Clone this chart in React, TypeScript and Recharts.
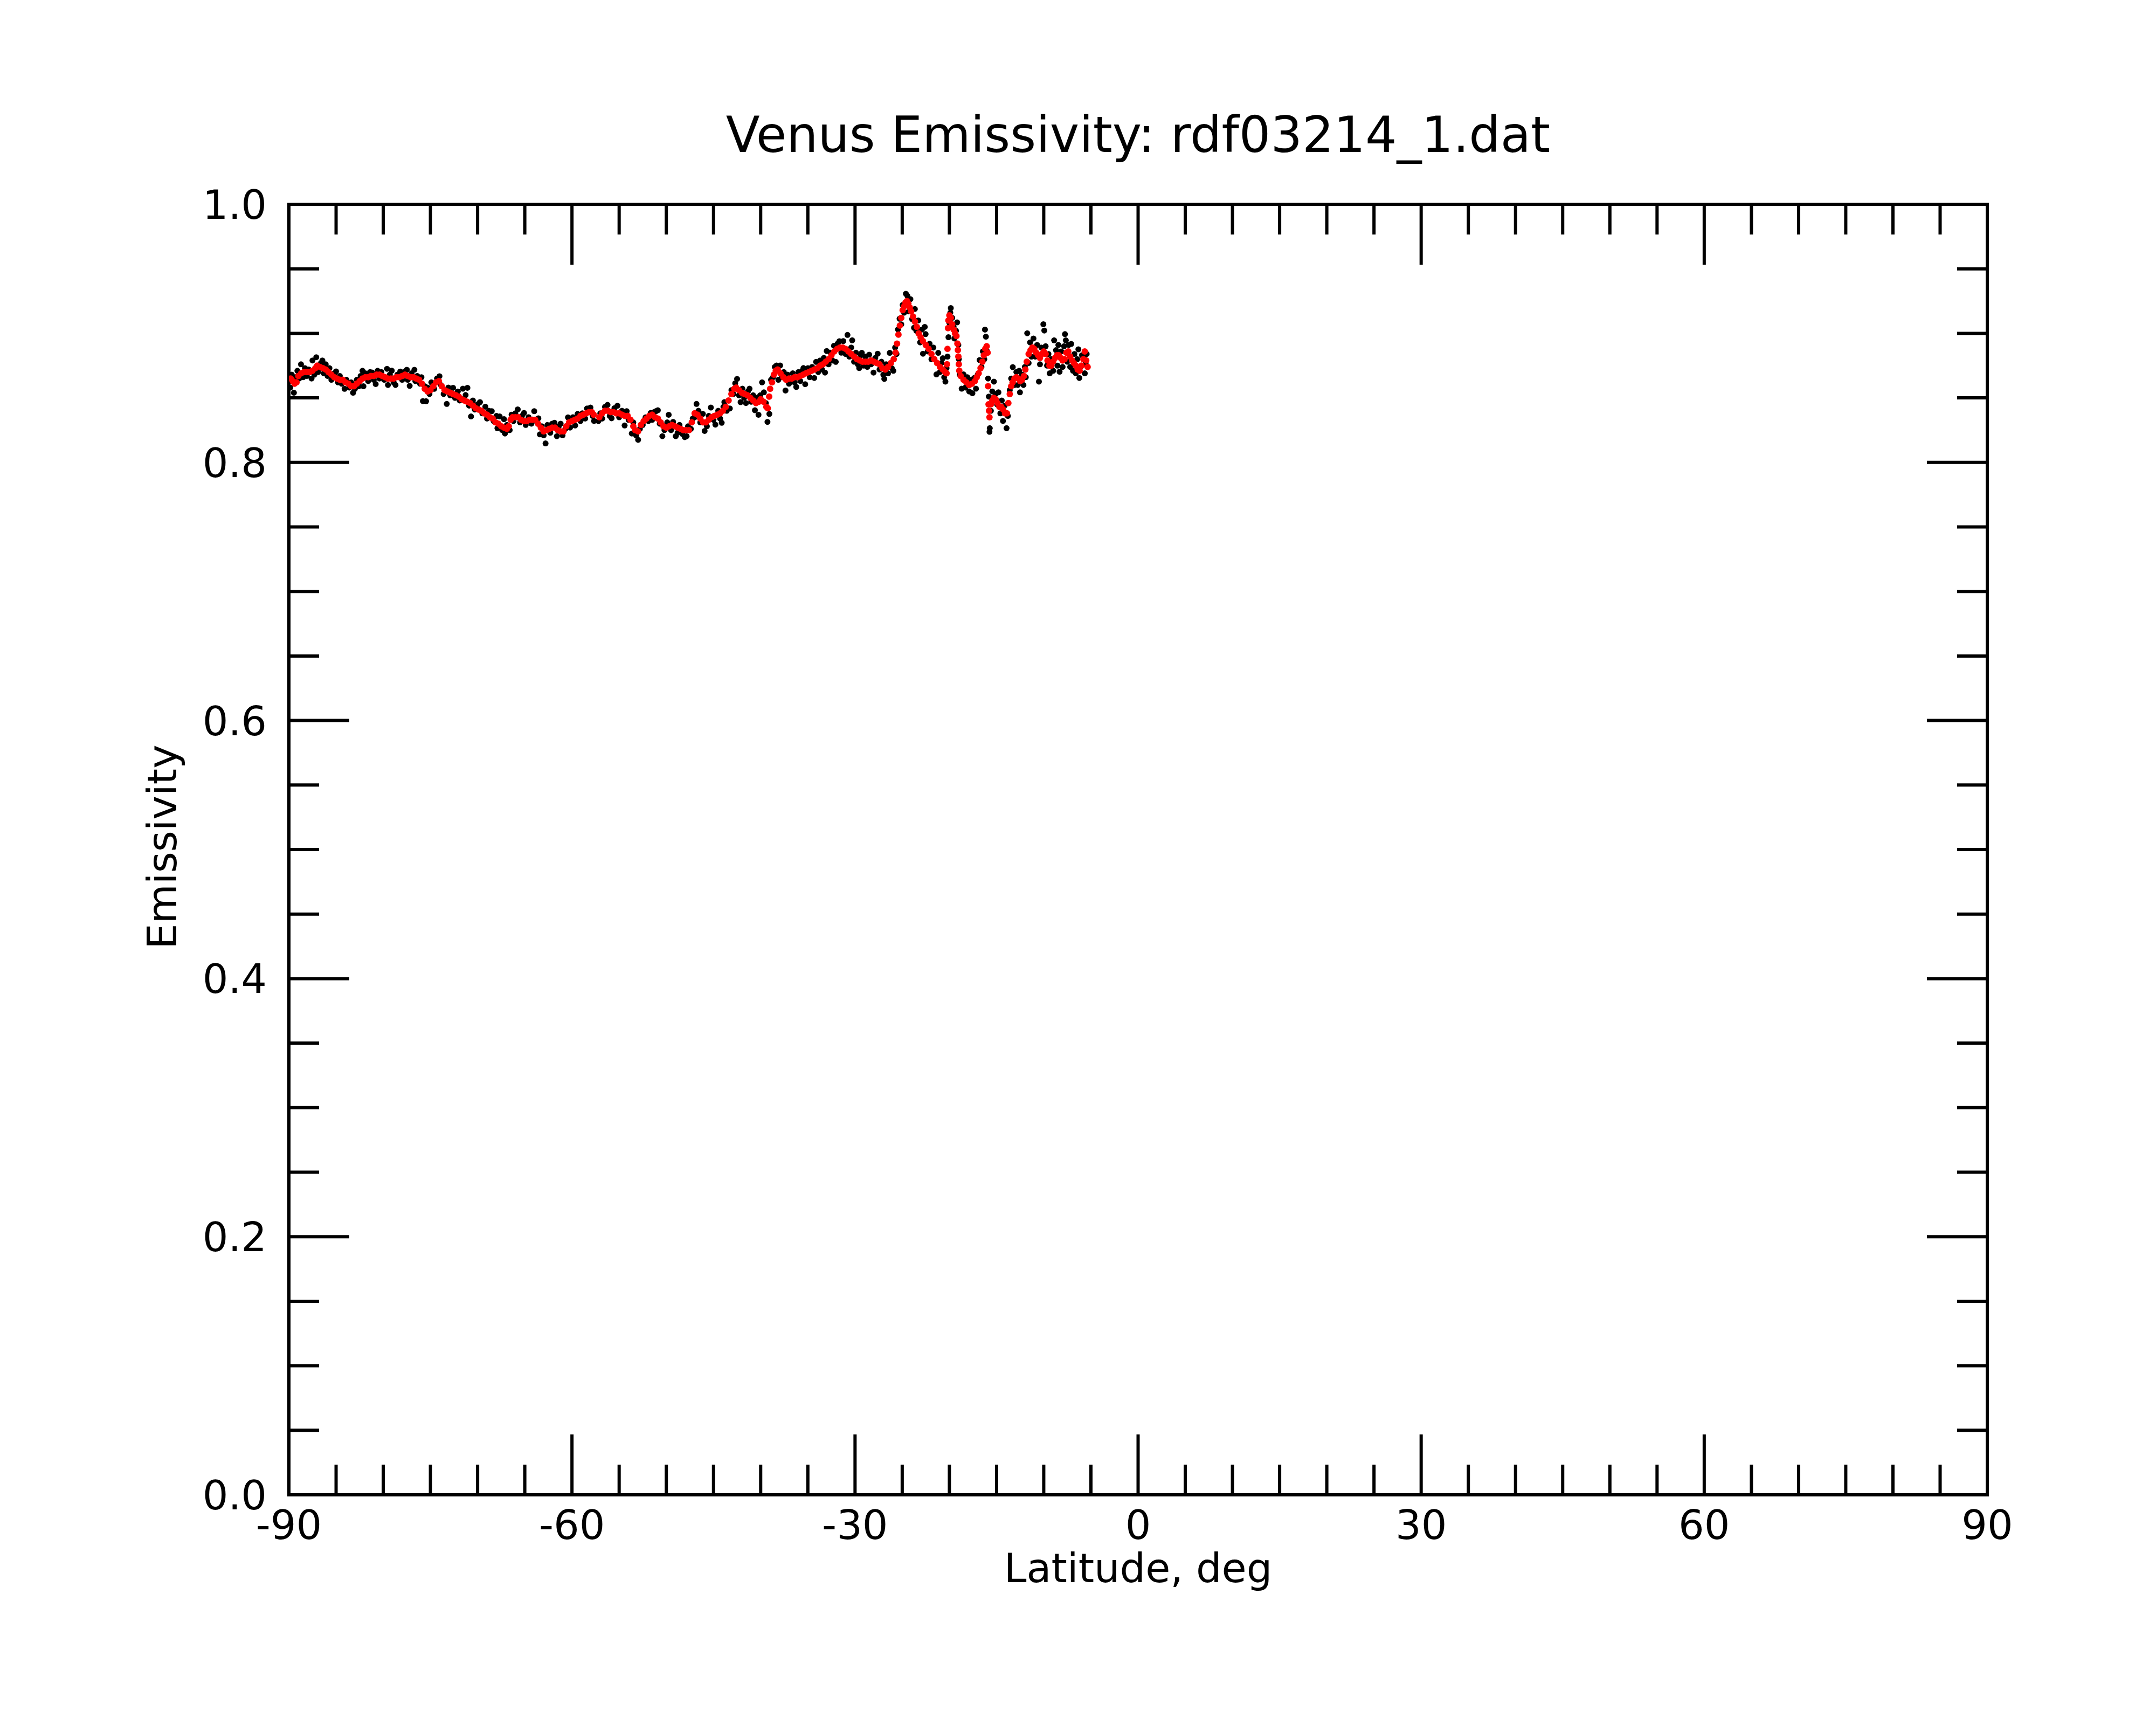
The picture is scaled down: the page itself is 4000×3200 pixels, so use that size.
import React from 'react';
import { ScatterChart, Scatter, XAxis, YAxis } from 'recharts';

const TITLE = 'Venus Emissivity: rdf03214_1.dat';
const X_LABEL = 'Latitude, deg';
const Y_LABEL = 'Emissivity';

const xTicks = [-90, -85, -80, -75, -70, -65, -60, -55, -50, -45, -40, -35, -30, -25, -20, -15, -10, -5, 0, 5, 10, 15, 20, 25, 30, 35, 40, 45, 50, 55, 60, 65, 70, 75, 80, 85, 90];
const xMajor = [-90, -60, -30, 0, 30, 60, 90];
const yTicks = [0, 0.05, 0.1, 0.15, 0.2, 0.25, 0.3, 0.35, 0.4, 0.45, 0.5, 0.55, 0.6, 0.65, 0.7, 0.75, 0.8, 0.85, 0.9, 0.95, 1.0];
const yMajor = [0, 0.2, 0.4, 0.6, 0.8, 1.0];

// smoothed emissivity (red) : [latitude, emissivity]
const redPoints: [number, number][] = [
  [-89.8, 0.865], [-89.6, 0.863], [-89.4, 0.861], [-89.2, 0.862], [-89.0, 0.867], [-88.7, 0.869], [-88.4, 0.870], [-88.1, 0.870],
  [-87.8, 0.870], [-87.5, 0.871], [-87.2, 0.873], [-87.0, 0.875], [-86.7, 0.874], [-86.4, 0.873], [-86.1, 0.872], [-85.8, 0.870],
  [-85.5, 0.868], [-85.2, 0.866], [-84.9, 0.865], [-84.6, 0.864], [-84.3, 0.864], [-84.0, 0.862], [-83.7, 0.861], [-83.4, 0.859],
  [-83.1, 0.859], [-82.8, 0.861], [-82.5, 0.863], [-82.2, 0.865], [-81.9, 0.866], [-81.6, 0.866], [-81.3, 0.867], [-81.0, 0.867],
  [-80.7, 0.868], [-80.4, 0.868], [-80.1, 0.867], [-79.8, 0.866], [-79.5, 0.865], [-79.2, 0.865], [-78.9, 0.865], [-78.6, 0.866],
  [-78.3, 0.866], [-78.0, 0.867], [-77.7, 0.868], [-77.4, 0.867], [-77.1, 0.866], [-76.8, 0.866], [-76.5, 0.865], [-76.2, 0.864],
  [-75.9, 0.861], [-75.6, 0.857], [-75.3, 0.855], [-75.0, 0.856], [-74.7, 0.859], [-74.4, 0.862], [-74.1, 0.863], [-73.8, 0.859],
  [-73.5, 0.856], [-73.2, 0.855], [-72.9, 0.854], [-72.6, 0.853], [-72.3, 0.852], [-72.0, 0.851], [-71.7, 0.849], [-71.4, 0.848],
  [-71.1, 0.847], [-70.8, 0.846], [-70.5, 0.844], [-70.2, 0.842], [-69.9, 0.841], [-69.6, 0.840], [-69.3, 0.838], [-69.0, 0.837],
  [-68.7, 0.835], [-68.4, 0.834], [-68.1, 0.831], [-67.8, 0.830], [-67.5, 0.828], [-67.2, 0.827], [-66.9, 0.826], [-66.7, 0.828],
  [-66.5, 0.833], [-66.3, 0.835], [-66.0, 0.835], [-65.7, 0.835], [-65.4, 0.833], [-65.1, 0.832], [-64.8, 0.832], [-64.5, 0.833],
  [-64.2, 0.833], [-63.9, 0.833], [-63.6, 0.830], [-63.3, 0.827], [-63.0, 0.824], [-62.7, 0.825], [-62.4, 0.826], [-62.1, 0.827],
  [-61.8, 0.827], [-61.5, 0.825], [-61.2, 0.824], [-60.9, 0.824], [-60.6, 0.828], [-60.3, 0.831], [-60.0, 0.832], [-59.7, 0.833],
  [-59.4, 0.834], [-59.1, 0.836], [-58.8, 0.837], [-58.5, 0.838], [-58.2, 0.839], [-57.9, 0.839], [-57.7, 0.837],
  [-57.1, 0.835], [-56.8, 0.838], [-56.5, 0.840], [-56.2, 0.840], [-55.9, 0.839], [-55.6, 0.839], [-55.3, 0.838], [-55.0, 0.838],
  [-54.7, 0.837], [-54.4, 0.836], [-54.1, 0.836], [-53.8, 0.833], [-53.5, 0.828], [-53.3, 0.825], [-53.0, 0.824], [-52.7, 0.829],
  [-52.4, 0.832], [-52.1, 0.834], [-51.8, 0.836], [-51.5, 0.837], [-51.2, 0.835], [-50.9, 0.834], [-50.6, 0.831], [-50.3, 0.828],
  [-50.0, 0.827], [-49.7, 0.828], [-49.4, 0.829], [-49.1, 0.828], [-48.8, 0.827], [-48.5, 0.826], [-48.2, 0.825], [-47.9, 0.825],
  [-47.6, 0.825], [-47.3, 0.831], [-47.0, 0.838], [-46.7, 0.837], [-46.4, 0.834], [-46.1, 0.831], [-45.8, 0.831], [-45.5, 0.833],
  [-45.2, 0.835], [-44.9, 0.836], [-44.6, 0.837], [-44.3, 0.838], [-44.0, 0.840], [-43.7, 0.843], [-43.4, 0.848], [-43.1, 0.853],
  [-42.8, 0.857], [-42.6, 0.858], [-42.3, 0.856], [-42.0, 0.854], [-41.7, 0.853], [-41.4, 0.852], [-41.1, 0.850], [-40.8, 0.848],
  [-40.5, 0.846], [-40.2, 0.847], [-40.0, 0.849], [-39.7, 0.847], [-39.4, 0.843], [-39.25, 0.842], [-39.1, 0.851], [-39.0, 0.857],
  [-38.8, 0.862], [-38.6, 0.868], [-38.4, 0.871], [-38.2, 0.872], [-37.9, 0.869], [-37.6, 0.866], [-37.3, 0.864], [-37.0, 0.865],
  [-36.7, 0.865], [-36.4, 0.866], [-36.1, 0.866], [-35.8, 0.867], [-35.5, 0.868], [-35.2, 0.869], [-34.9, 0.870], [-34.6, 0.871],
  [-34.3, 0.872], [-34.0, 0.873], [-33.7, 0.875], [-33.4, 0.876], [-33.1, 0.878], [-32.8, 0.880], [-32.5, 0.883], [-32.2, 0.886],
  [-31.9, 0.888], [-31.6, 0.889], [-31.3, 0.889], [-31.0, 0.888], [-30.7, 0.886], [-30.4, 0.884], [-30.1, 0.882], [-29.8, 0.880],
  [-29.5, 0.879], [-29.2, 0.878], [-28.9, 0.878], [-28.6, 0.878], [-28.3, 0.879], [-28.0, 0.878], [-27.7, 0.877], [-27.4, 0.876],
  [-27.1, 0.873], [-26.8, 0.872], [-26.5, 0.874], [-26.2, 0.877], [-25.9, 0.880], [-25.7, 0.885], [-25.55, 0.892], [-25.4, 0.899],
  [-25.25, 0.906], [-25.1, 0.912], [-24.95, 0.918], [-24.8, 0.921], [-24.65, 0.924], [-24.5, 0.925], [-24.35, 0.923], [-24.2, 0.920],
  [-24.05, 0.917], [-23.85, 0.913], [-23.65, 0.909], [-23.45, 0.905], [-23.25, 0.900], [-23.05, 0.897], [-22.8, 0.894], [-22.5, 0.891],
  [-22.2, 0.888], [-21.9, 0.884], [-21.6, 0.880], [-21.3, 0.877], [-21.0, 0.874], [-20.7, 0.872], [-20.45, 0.870], [-20.3, 0.869],
  [-20.25, 0.876], [-20.2, 0.888], [-20.15, 0.904], [-20.1, 0.910], [-20.0, 0.914], [-19.85, 0.912], [-19.7, 0.907], [-19.55, 0.903],
  [-19.4, 0.900], [-19.25, 0.898], [-19.15, 0.892], [-19.1, 0.887], [-19.05, 0.882], [-19.0, 0.876], [-18.95, 0.871], [-18.8, 0.867],
  [-18.5, 0.864], [-18.2, 0.862], [-17.9, 0.860], [-17.6, 0.861], [-17.3, 0.863], [-17.1, 0.866], [-16.9, 0.869], [-16.7, 0.873],
  [-16.5, 0.878], [-16.35, 0.883], [-16.2, 0.888], [-16.05, 0.890], [-15.95, 0.885], [-15.9, 0.859], [-15.85, 0.845], [-15.8, 0.840],
  [-15.75, 0.835], [-15.6, 0.845], [-15.45, 0.848], [-15.3, 0.850], [-15.1, 0.849], [-14.9, 0.846], [-14.7, 0.843], [-14.5, 0.843],
  [-14.3, 0.841], [-14.1, 0.838], [-13.9, 0.838], [-13.75, 0.846], [-13.6, 0.853], [-13.45, 0.859], [-13.3, 0.862], [-13.1, 0.865],
  [-12.9, 0.866], [-12.7, 0.865], [-12.5, 0.863], [-12.3, 0.864], [-12.1, 0.867], [-11.95, 0.872], [-11.8, 0.878], [-11.6, 0.884],
  [-11.4, 0.887], [-11.2, 0.889], [-11.0, 0.888], [-10.8, 0.885], [-10.6, 0.883], [-10.4, 0.881], [-10.2, 0.884], [-10.0, 0.886],
  [-9.8, 0.884], [-9.6, 0.879], [-9.4, 0.875], [-9.2, 0.875], [-9.0, 0.878], [-8.8, 0.881], [-8.6, 0.883], [-8.4, 0.883],
  [-8.2, 0.881], [-8.0, 0.879], [-7.8, 0.880], [-7.6, 0.885], [-7.4, 0.886], [-7.2, 0.882], [-7.0, 0.879], [-6.8, 0.877],
  [-6.6, 0.875], [-6.4, 0.872], [-6.2, 0.871], [-6.0, 0.875], [-5.8, 0.880], [-5.65, 0.886], [-5.5, 0.879], [-5.35, 0.874],
];

// raw emissivity samples (black) : [latitude, emissivity]
const blackPoints: [number, number][] = [
  [-89.85, 0.858], [-89.7, 0.868], [-89.47, 0.854], [-89.3, 0.866], [-89.1, 0.871], [-88.9, 0.865], [-88.72, 0.876], [-88.5, 0.866],
  [-88.3, 0.873], [-88.1, 0.867], [-87.9, 0.872], [-87.6, 0.865], [-87.5, 0.879], [-87.3, 0.868], [-87.1, 0.8815], [-86.9, 0.870],
  [-86.6, 0.877], [-86.45, 0.879], [-86.3, 0.869], [-86.1, 0.876], [-85.9, 0.867], [-85.7, 0.873], [-85.5, 0.864], [-85.2, 0.869],
  [-85.0, 0.8705], [-84.8, 0.862], [-84.6, 0.867], [-84.4, 0.861], [-84.1, 0.857], [-83.9, 0.864], [-83.6, 0.858], [-83.4, 0.862],
  [-83.2, 0.854], [-83.0, 0.857], [-82.8, 0.864], [-82.6, 0.859], [-82.4, 0.867], [-82.2, 0.871], [-82.1, 0.859], [-81.9, 0.869],
  [-81.6, 0.863], [-81.4, 0.870], [-81.2, 0.8697], [-81.0, 0.864], [-80.8, 0.8607], [-80.6, 0.871], [-80.4, 0.865], [-80.2, 0.870],
  [-79.9, 0.864], [-79.6, 0.8725], [-79.5, 0.860], [-79.3, 0.868], [-79.1, 0.8711], [-78.9, 0.862], [-78.7, 0.860], [-78.5, 0.868],
  [-78.2, 0.8704], [-78.0, 0.864], [-77.8, 0.870], [-77.5, 0.8718], [-77.4, 0.864], [-77.2, 0.8593], [-77.0, 0.869], [-76.7, 0.8718],
  [-76.6, 0.863], [-76.4, 0.867], [-76.1, 0.861], [-75.95, 0.866], [-75.8, 0.8475], [-75.6, 0.859], [-75.46, 0.8474], [-75.3, 0.858],
  [-75.1, 0.853], [-74.9, 0.862], [-74.6, 0.857], [-74.3, 0.865], [-74.04, 0.8668], [-73.9, 0.860], [-73.6, 0.853], [-73.27, 0.8453],
  [-73.1, 0.858], [-72.9, 0.852], [-72.6, 0.8578], [-72.4, 0.850], [-72.1, 0.855], [-71.9, 0.848], [-71.56, 0.8571], [-71.27, 0.8522],
  [-71.08, 0.8578], [-70.9, 0.844], [-70.7, 0.8356], [-70.5, 0.848], [-70.3, 0.841], [-70.0, 0.845], [-69.75, 0.8467], [-69.5, 0.838],
  [-69.18, 0.8432], [-69.0, 0.834], [-68.8, 0.840], [-68.5, 0.8397], [-68.3, 0.832], [-68.0, 0.836], [-67.9, 0.8265], [-67.66, 0.8356],
  [-67.4, 0.825], [-67.2, 0.8335], [-67.1, 0.8224], [-66.9, 0.829], [-66.6, 0.825], [-66.4, 0.837], [-66.2, 0.832], [-66.0, 0.838],
  [-65.75, 0.8411], [-65.5, 0.831], [-65.3, 0.836], [-65.08, 0.8383], [-64.9, 0.829], [-64.6, 0.835], [-64.3, 0.830], [-64.0, 0.8397],
  [-63.8, 0.832], [-63.56, 0.8342], [-63.4, 0.8217], [-63.2, 0.828], [-63.0, 0.821], [-62.8, 0.8147], [-62.6, 0.829], [-62.3, 0.823],
  [-62.1, 0.830], [-61.85, 0.8307], [-61.6, 0.8203], [-61.4, 0.828], [-61.2, 0.830], [-61.0, 0.821], [-60.7, 0.826], [-60.42, 0.8349],
  [-60.2, 0.827], [-59.9, 0.835], [-59.66, 0.8286], [-59.4, 0.8376], [-59.1, 0.832], [-58.9, 0.838], [-58.6, 0.834], [-58.4, 0.8418],
  [-58.04, 0.8425], [-57.8, 0.836], [-57.66, 0.8321], [-57.2, 0.832], [-57.0, 0.838], [-56.8, 0.834], [-56.5, 0.843], [-56.23, 0.8446],
  [-56.0, 0.836], [-55.8, 0.8342], [-55.5, 0.842], [-55.18, 0.8439], [-55.0, 0.835], [-54.7, 0.840], [-54.42, 0.8286], [-54.2, 0.8397],
  [-54.0, 0.833], [-53.66, 0.8224], [-53.5, 0.831], [-53.2, 0.821], [-52.99, 0.8175], [-52.8, 0.826], [-52.5, 0.829], [-52.2, 0.8349],
  [-51.9, 0.832], [-51.66, 0.8383], [-51.5, 0.833], [-51.3, 0.839], [-51.1, 0.8397], [-50.9, 0.8404], [-50.7, 0.830], [-50.42, 0.8203],
  [-50.2, 0.825], [-49.9, 0.831], [-49.75, 0.8369], [-49.5, 0.825], [-49.28, 0.8314], [-49.0, 0.8203], [-48.8, 0.823], [-48.6, 0.829],
  [-48.3, 0.822], [-48.04, 0.8196], [-47.85, 0.8203], [-47.7, 0.828], [-47.4, 0.826], [-47.2, 0.834], [-47.0, 0.835], [-46.8, 0.8453],
  [-46.6, 0.840], [-46.4, 0.831], [-46.13, 0.8376], [-45.94, 0.8244], [-45.7, 0.828], [-45.5, 0.836], [-45.28, 0.8425], [-45.0, 0.833],
  [-44.8, 0.8293], [-44.5, 0.840], [-44.3, 0.834], [-44.13, 0.8307], [-43.95, 0.843], [-43.85, 0.8467], [-43.6, 0.840], [-43.27, 0.8418],
  [-43.1, 0.856], [-42.9, 0.853], [-42.7, 0.8613], [-42.5, 0.8647], [-42.3, 0.852], [-42.13, 0.8467], [-41.94, 0.8571], [-41.75, 0.850],
  [-41.56, 0.846], [-41.35, 0.855], [-41.18, 0.8571], [-41.0, 0.847], [-40.8, 0.852], [-40.61, 0.8404], [-40.4, 0.850], [-40.23, 0.8369],
  [-40.05, 0.852], [-39.85, 0.862], [-39.66, 0.8543], [-39.45, 0.846], [-39.28, 0.8314], [-39.08, 0.8376], [-38.9, 0.864], [-38.7, 0.866],
  [-38.5, 0.874], [-38.32, 0.8751], [-38.13, 0.864], [-37.94, 0.8751], [-37.75, 0.866], [-37.55, 0.870], [-37.37, 0.8557], [-37.15, 0.868],
  [-37.0, 0.861], [-36.8, 0.8626], [-36.6, 0.869], [-36.4, 0.862], [-36.23, 0.8585], [-36.0, 0.870], [-35.8, 0.863], [-35.6, 0.871],
  [-35.47, 0.8731], [-35.28, 0.8606], [-35.0, 0.873], [-34.8, 0.866], [-34.55, 0.874], [-34.32, 0.8654], [-34.13, 0.8779], [-33.9, 0.870],
  [-33.7, 0.879], [-33.5, 0.872], [-33.3, 0.881], [-33.18, 0.8696], [-33.0, 0.8863], [-32.8, 0.876], [-32.6, 0.885], [-32.4, 0.879],
  [-32.23, 0.8904], [-32.04, 0.8779], [-31.85, 0.892], [-31.66, 0.8939], [-31.45, 0.885], [-31.25, 0.894], [-31.0, 0.884], [-30.8, 0.8988],
  [-30.6, 0.882], [-30.4, 0.889], [-30.3, 0.8946], [-30.1, 0.878], [-29.9, 0.885], [-29.7, 0.876], [-29.56, 0.8731], [-29.4, 0.883],
  [-29.28, 0.8849], [-29.1, 0.875], [-28.9, 0.882], [-28.7, 0.874], [-28.5, 0.8835], [-28.3, 0.876], [-28.04, 0.8696], [-27.85, 0.881],
  [-27.6, 0.8842], [-27.4, 0.872], [-27.2, 0.878], [-27.0, 0.868], [-26.9, 0.8647], [-26.7, 0.876], [-26.5, 0.869], [-26.32, 0.8849],
  [-26.1, 0.873], [-25.94, 0.871], [-25.75, 0.889], [-25.6, 0.884], [-25.45, 0.903], [-25.28, 0.9113], [-25.1, 0.907], [-24.95, 0.922],
  [-24.8, 0.916], [-24.61, 0.9307], [-24.45, 0.929], [-24.3, 0.917], [-24.13, 0.9265], [-23.95, 0.911], [-23.75, 0.9043], [-23.66, 0.9189],
  [-23.5, 0.902], [-23.3, 0.910], [-23.1, 0.893], [-22.9, 0.903], [-22.8, 0.8842], [-22.61, 0.905], [-22.52, 0.8994], [-22.3, 0.886],
  [-22.1, 0.892], [-21.9, 0.880], [-21.7, 0.889], [-21.37, 0.8682], [-21.18, 0.8849], [-21.0, 0.870], [-20.85, 0.877], [-20.7, 0.8807],
  [-20.55, 0.866], [-20.42, 0.8626], [-20.3, 0.873], [-20.2, 0.882], [-20.1, 0.897], [-20.0, 0.908], [-19.9, 0.916], [-19.85, 0.9196],
  [-19.7, 0.912], [-19.55, 0.905], [-19.47, 0.896], [-19.3, 0.902], [-19.18, 0.9085], [-19.05, 0.891], [-19.0, 0.880], [-18.9, 0.868],
  [-18.7, 0.8571], [-18.5, 0.8682], [-18.3, 0.858], [-18.1, 0.866], [-17.9, 0.855], [-17.7, 0.864], [-17.56, 0.8536], [-17.37, 0.8654],
  [-17.18, 0.8571], [-17.0, 0.868], [-16.8, 0.8793], [-16.6, 0.874], [-16.45, 0.886], [-16.3, 0.880], [-16.23, 0.9029], [-16.13, 0.8974],
  [-16.0, 0.886], [-15.9, 0.865], [-15.82, 0.851], [-15.75, 0.8237], [-15.72, 0.8265], [-15.6, 0.840], [-15.45, 0.855], [-15.28, 0.8626],
  [-15.1, 0.853], [-14.95, 0.845], [-14.8, 0.8543], [-14.6, 0.838], [-14.45, 0.848], [-14.32, 0.8321], [-14.15, 0.844], [-13.94, 0.8265],
  [-13.8, 0.836], [-13.6, 0.856], [-13.45, 0.865], [-13.28, 0.8738], [-13.1, 0.860], [-12.9, 0.870], [-12.75, 0.860], [-12.61, 0.871],
  [-12.52, 0.8543], [-12.3, 0.868], [-12.15, 0.860], [-12.0, 0.874], [-11.9, 0.866], [-11.75, 0.9001], [-11.6, 0.877], [-11.45, 0.893],
  [-11.3, 0.882], [-11.09, 0.896], [-10.9, 0.882], [-10.7, 0.891], [-10.51, 0.8626], [-10.4, 0.876], [-10.25, 0.889], [-10.04, 0.9071],
  [-9.94, 0.9022], [-9.8, 0.890], [-9.65, 0.875], [-9.5, 0.884], [-9.37, 0.869], [-9.2, 0.880], [-9.0, 0.871], [-8.9, 0.8946],
  [-8.7, 0.887], [-8.55, 0.875], [-8.45, 0.891], [-8.32, 0.8703], [-8.15, 0.886], [-8.0, 0.874], [-7.85, 0.890], [-7.75, 0.8994],
  [-7.66, 0.8946], [-7.5, 0.878], [-7.35, 0.891], [-7.2, 0.874], [-7.09, 0.8918], [-6.9, 0.871], [-6.75, 0.884], [-6.6, 0.869],
  [-6.45, 0.880], [-6.33, 0.8876], [-6.23, 0.8654], [-6.1, 0.874], [-5.95, 0.883], [-5.75, 0.8821], [-5.65, 0.869], [-5.56, 0.8765],
  [-5.45, 0.884],
];

const redData = redPoints.map(([lat, em]) => ({ lat, em }));
const blackData = blackPoints.map(([lat, em]) => ({ lat, em }));

const W = 4000;
const H = 3200;
// each axis takes 1px, so the plot spans x 536..3687, y 379..2773
const MARGIN = { top: 378, right: 312, bottom: 426, left: 535 };
const PLOT_CX = (536 + 3687) / 2;
const PLOT_CY = (379 + 2773) / 2;
const FONT = "'DejaVu Sans', sans-serif";
const MAJOR_LEN = 112;
const MINOR_LEN = 56;
const LW = 6;

const near = (list: number[], v: number) => list.some((m) => Math.abs(m - v) < 1e-6);

const BottomTick = (props: any) => {
  const { x, y, payload } = props;
  const major = near(xMajor, payload.value);
  return (
    <g>
      <line x1={x} y1={y} x2={x} y2={y - (major ? MAJOR_LEN : MINOR_LEN)} stroke="#000" strokeWidth={LW} />
      {major && (
        <text x={x} y={y + 82} textAnchor="middle" fontSize={75} fontFamily={FONT} fill="#000">
          {String(payload.value)}
        </text>
      )}
    </g>
  );
};

const TopTick = (props: any) => {
  const { x, y, payload } = props;
  const major = near(xMajor, payload.value);
  return <line x1={x} y1={y} x2={x} y2={y + (major ? MAJOR_LEN : MINOR_LEN)} stroke="#000" strokeWidth={LW} />;
};

const LeftTick = (props: any) => {
  const { x, y, payload } = props;
  const major = near(yMajor, payload.value);
  return (
    <g>
      <line x1={x} y1={y} x2={x + (major ? MAJOR_LEN : MINOR_LEN)} y2={y} stroke="#000" strokeWidth={LW} />
      {major && (
        <text x={x - 41} y={y + 27} textAnchor="end" fontSize={75} fontFamily={FONT} fill="#000">
          {Number(payload.value).toFixed(1)}
        </text>
      )}
    </g>
  );
};

const RightTick = (props: any) => {
  const { x, y, payload } = props;
  const major = near(yMajor, payload.value);
  return <line x1={x} y1={y} x2={x - (major ? MAJOR_LEN : MINOR_LEN)} y2={y} stroke="#000" strokeWidth={LW} />;
};

const BlackDot = (p: any) => <circle cx={p.cx} cy={p.cy} r={5.5} fill="#000000" />;
const RedDot = (p: any) => <circle cx={p.cx} cy={p.cy} r={6} fill="#ff0000" />;

const axisLine = { stroke: '#000', strokeWidth: LW, strokeLinecap: 'square' as const };

export default function App() {
  return (
    <div style={{ position: 'absolute', left: 0, top: 0, width: W, height: H, background: '#fff' }}>
      <ScatterChart width={W} height={H} margin={MARGIN}>
        <XAxis
          xAxisId="b"
          dataKey="lat"
          type="number"
          domain={[-90, 90]}
          ticks={xTicks}
          interval={0}
          height={1}
          tickSize={0}
          tickMargin={0}
          tickLine={false}
          tick={BottomTick}
          axisLine={axisLine}
          allowDataOverflow
        />
        <XAxis
          xAxisId="t"
          orientation="top"
          dataKey="lat"
          type="number"
          domain={[-90, 90]}
          ticks={xTicks}
          interval={0}
          height={1}
          tickSize={0}
          tickMargin={0}
          tickLine={false}
          tick={TopTick}
          axisLine={axisLine}
          allowDataOverflow
        />
        <YAxis
          yAxisId="l"
          dataKey="em"
          type="number"
          domain={[0, 1]}
          ticks={yTicks}
          interval={0}
          width={1}
          tickSize={0}
          tickMargin={0}
          tickLine={false}
          tick={LeftTick}
          axisLine={axisLine}
          allowDataOverflow
        />
        <YAxis
          yAxisId="r"
          orientation="right"
          dataKey="em"
          type="number"
          domain={[0, 1]}
          ticks={yTicks}
          interval={0}
          width={1}
          tickSize={0}
          tickMargin={0}
          tickLine={false}
          tick={RightTick}
          axisLine={axisLine}
          allowDataOverflow
        />
        <Scatter xAxisId="b" yAxisId="l" data={blackData} dataKey="em" shape={BlackDot} isAnimationActive={false} />
        <Scatter xAxisId="b" yAxisId="l" data={redData} dataKey="em" shape={RedDot} isAnimationActive={false} />
      </ScatterChart>
      <svg width={W} height={H} style={{ position: 'absolute', left: 0, top: 0, pointerEvents: 'none' }}>
        <text x={PLOT_CX} y={282} textAnchor="middle" fontSize={92} fontFamily={FONT} fill="#000">
          {TITLE}
        </text>
        <text x={PLOT_CX} y={2935} textAnchor="middle" fontSize={75} fontFamily={FONT} fill="#000">
          {X_LABEL}
        </text>
        <text
          x={327}
          y={PLOT_CY - 5}
          textAnchor="middle"
          fontSize={75}
          fontFamily={FONT}
          fill="#000"
          transform={`rotate(-90 327 ${PLOT_CY - 5})`}
        >
          {Y_LABEL}
        </text>
      </svg>
    </div>
  );
}
